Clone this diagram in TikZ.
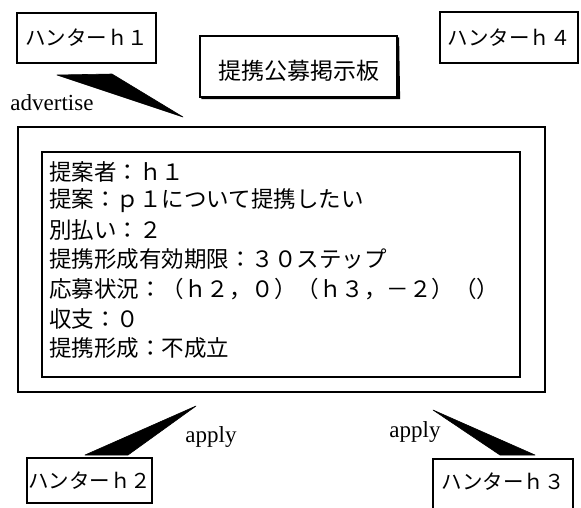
\documentclass[tikz,border=0pt]{standalone}
\usepackage{fontspec}
\setmainfont{Liberation Serif}
\newfontfamily\jp{Noto Sans CJK JP}
\begin{document}
\begin{tikzpicture}[x=1pt,y=-1pt,
  hunter/.style={draw, line width=1.2pt, inner sep=0pt,
    font=\jp\fontsize{20.5}{24}\selectfont},
  frame/.style={draw, line width=1.2pt, inner sep=0pt},
  infoline/.style={anchor=west, inner sep=0pt,
    font=\jp\fontsize{22.5}{27}\selectfont},
  lbl/.style={inner sep=0pt, font=\fontsize{23}{27}\selectfont},
  wedge/.style={fill=black, draw=black, line width=0.6pt, line join=round}]
\useasboundingbox (0,0) rectangle (581,507);
\clip (0,0) rectangle (581,507);

% hunters
\node[hunter, minimum width=139pt, minimum height=50pt] (h1) at (86.5,38) {ハンターｈ１};
\node[hunter, minimum width=138pt, minimum height=51pt] (h4) at (509,37.5) {ハンターｈ４};
\node[hunter, minimum width=125pt, minimum height=45pt] (h2) at (89.5,480.5) {ハンターｈ２};
\node[hunter, minimum width=140pt, minimum height=54pt] (h3) at (503,486) {};
\node[font=\jp\fontsize{20.5}{24}\selectfont, inner sep=0pt] (h3t) at (503,482) {ハンターｈ３};

% title board
\node[frame, minimum width=197pt, minimum height=61pt] (title) at (298.5,66.5) {};
\node[inner sep=0pt, font=\jp\fontsize{23}{27}\selectfont] (titletext) at (299,71) {提携公募掲示板};
\draw[line width=3pt] ([xshift=2pt]title.south west) -- ([xshift=1pt]title.south east) -- ([yshift=-2pt]title.north east);

% board frames
\node[frame, line width=1.2pt, minimum width=527pt, minimum height=265pt] (outer) at (281.5,259.5) {};
\node[frame, line width=2pt, minimum width=478pt, minimum height=225pt] (inner) at (281,264.5) {};

% contents
\node[infoline] (l1) at (49,172) {提案者：ｈ１};
\node[infoline] (l2) at (49,201) {提案：ｐ１について提携したい};
\node[infoline] (l3) at (49,230) {別払い：２};
\node[infoline] (l4) at (49,259) {提携形成有効期限：３０ステップ};
\node[infoline] (l5) at (49,289) {応募状況：（ｈ２，０）（ｈ３，－２）（）};
\node[infoline] (l6) at (49,319) {収支：０};
\node[infoline] (l7) at (49,348) {提携形成：不成立};

% wedges
\coordinate (a1) at (57,75);
\coordinate (a2) at (112,74);
\coordinate (a3) at (183,117);
\fill[wedge] (a1) -- (a2) -- (a3) -- cycle;

\coordinate (b1) at (85,455);
\coordinate (b2) at (128,455);
\coordinate (b3) at (196,406);
\fill[wedge] (b1) -- (b2) -- (b3) -- cycle;

\coordinate (c1) at (433,410);
\coordinate (c2) at (500,455);
\coordinate (c3) at (535,455);
\fill[wedge] (c1) -- (c2) -- (c3) -- cycle;

% labels
\node[lbl] (adv) at (52,103) {advertise};
\node[lbl] (ap1) at (211,437) {apply};
\node[lbl] (ap2) at (415,432) {apply};
\end{tikzpicture}
\end{document}
